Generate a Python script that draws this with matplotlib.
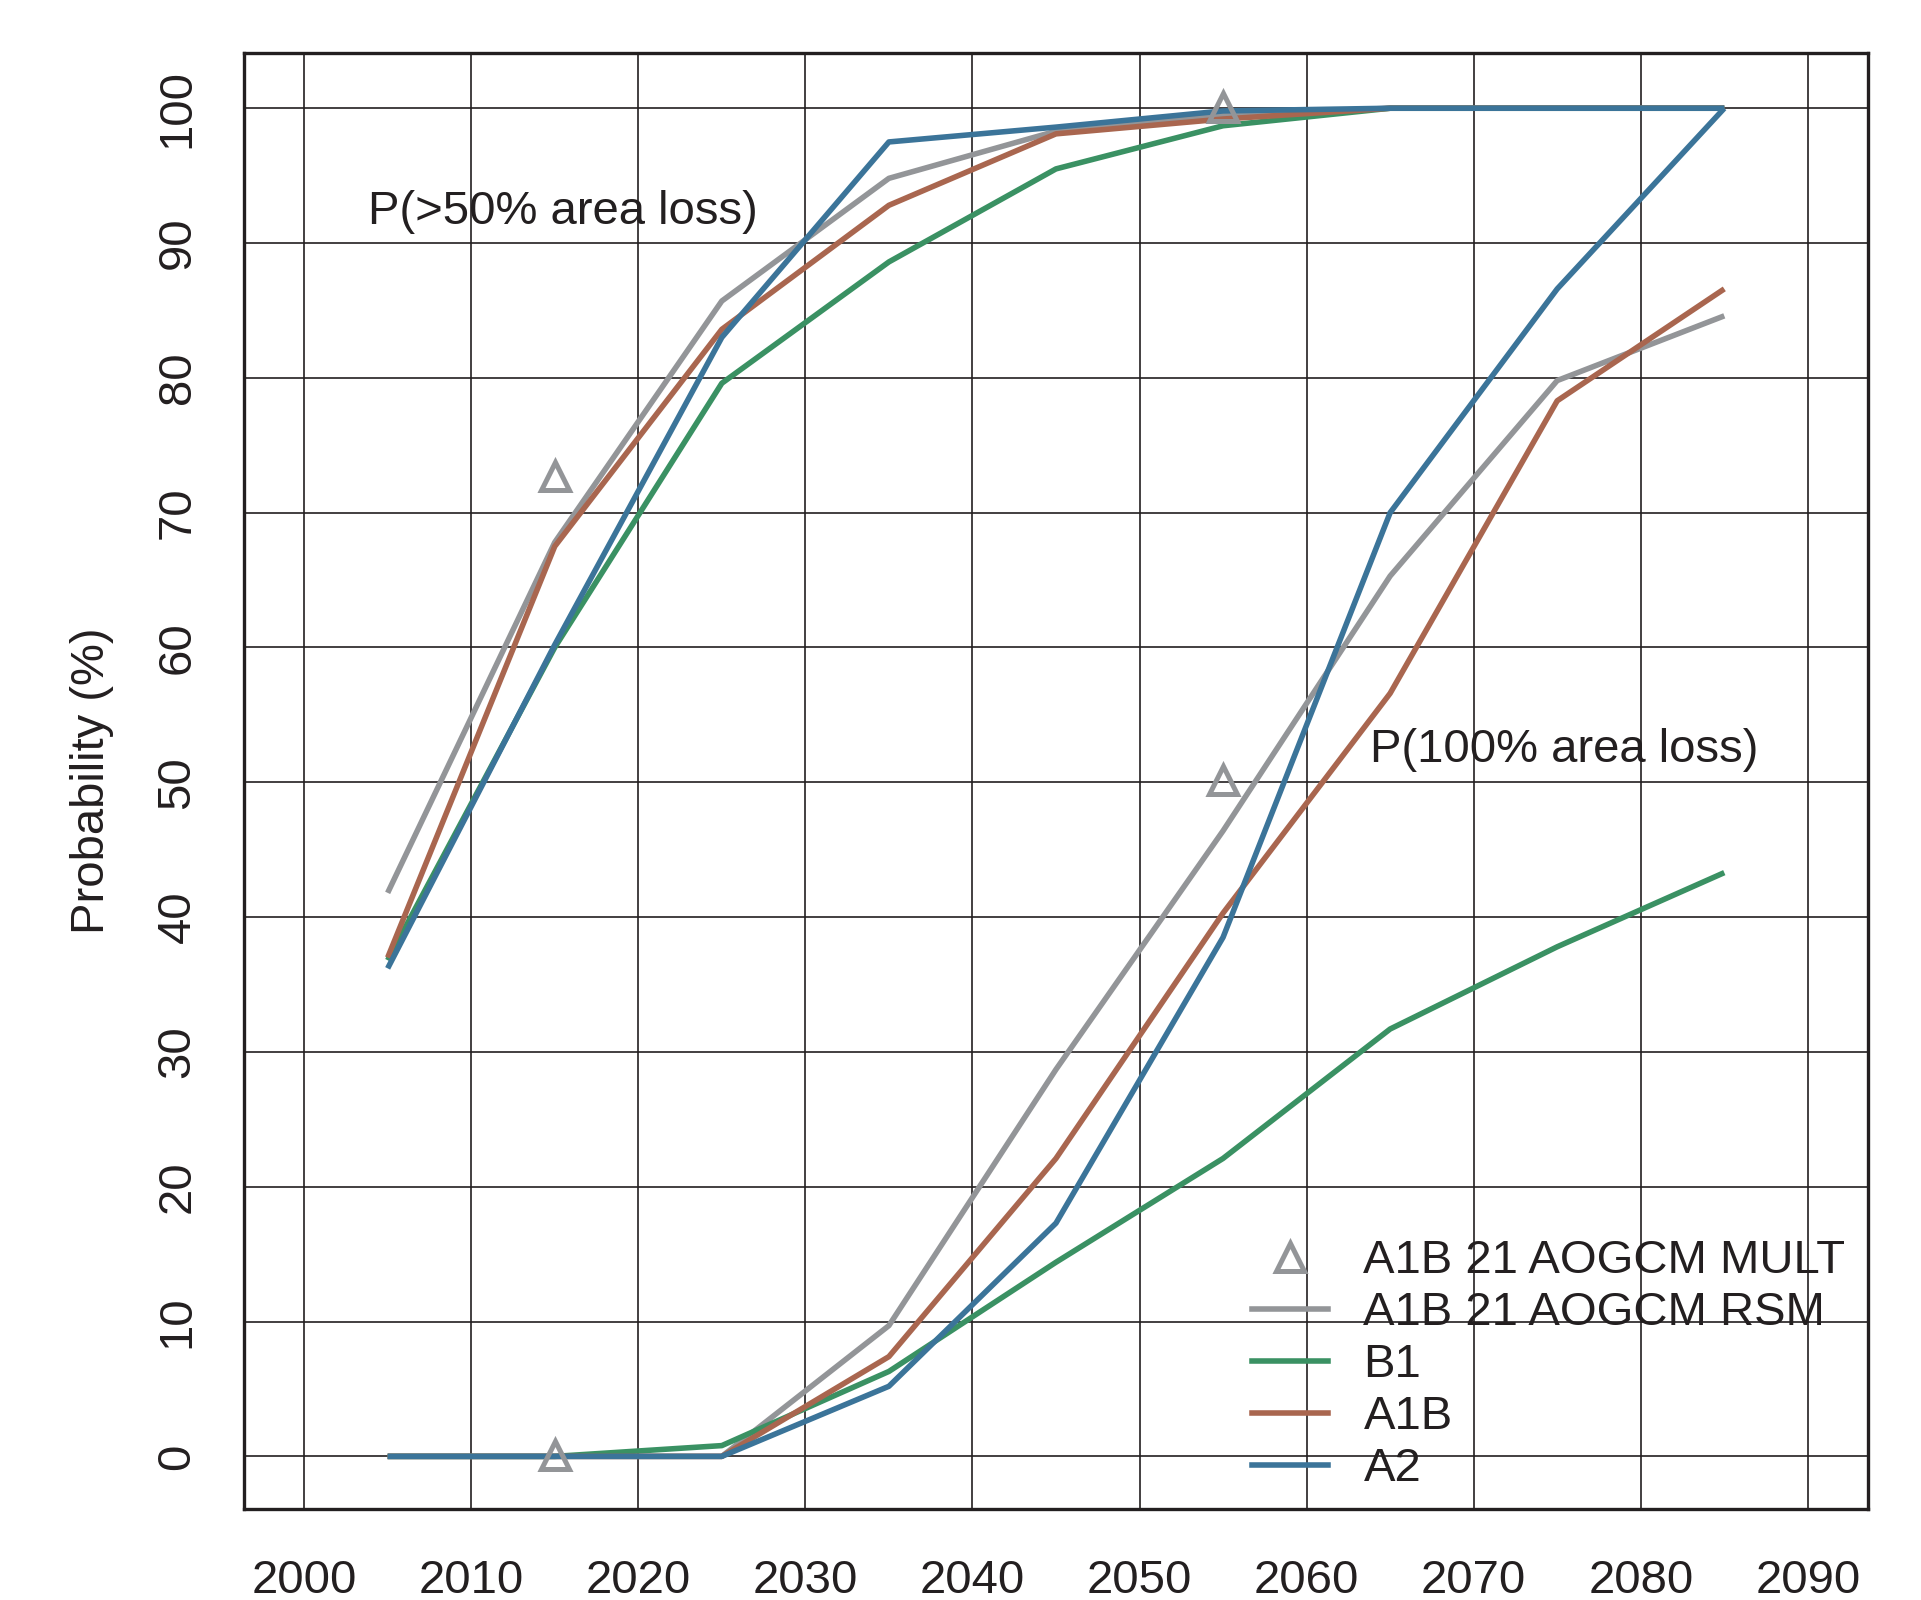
import matplotlib
matplotlib.use("Agg")
import matplotlib.pyplot as plt
from matplotlib.lines import Line2D

plt.rcParams["font.family"] = ["Liberation Sans", "DejaVu Sans"]

# decade mid-points
years = [2005, 2015, 2025, 2035, 2045, 2055, 2065, 2075, 2085]

# P(>50% area loss)
rsm_50 = [41.8, 67.8, 85.7, 94.8, 98.3, 99.5, 100, 100, 100]
b1_50 = [36.8, 60.0, 79.6, 88.6, 95.5, 98.7, 100, 100, 100]
a1b_50 = [37.0, 67.5, 83.6, 92.8, 98.1, 99.2, 100, 100, 100]
a2_50 = [36.2, 60.2, 83.0, 97.5, 98.6, 99.8, 100, 100, 100]

# P(100% area loss)
rsm_100 = [0, 0, 0, 9.7, 28.7, 46.4, 65.3, 79.8, 84.6]
b1_100 = [0, 0, 0.8, 6.3, 14.4, 22.1, 31.7, 37.8, 43.3]
a1b_100 = [0, 0, 0, 7.4, 22.1, 40.3, 56.6, 78.3, 86.6]
a2_100 = [0, 0, 0, 5.2, 17.3, 38.5, 70.0, 86.6, 100]

# multi-model points
mult_years = [2015, 2055, 2015, 2055]
mult_vals = [72.7, 100.1, 0.1, 50.2]

xticks = list(range(2000, 2091, 10))
yticks = list(range(0, 101, 10))

GRAY = "#939598"
GREEN = "#3a9163"
BROWN = "#a9664f"
BLUE = "#3b7499"
INK = "#231f20"

fig = plt.figure(figsize=(19.21, 16), dpi=100)
ax = fig.add_axes([0.127, 0.0569, 0.8454, 0.91])

lw = 4.0
for vals_50, vals_100, col in [(rsm_50, rsm_100, GRAY), (b1_50, b1_100, GREEN),
                               (a1b_50, a1b_100, BROWN), (a2_50, a2_100, BLUE)]:
    ax.plot(years, vals_50, color=col, lw=lw, solid_capstyle="butt", zorder=3)
    ax.plot(years, vals_100, color=col, lw=lw, solid_capstyle="butt", zorder=3)

ax.plot(mult_years, mult_vals, ls="none", marker="^", ms=20, mfc="none",
        mec=GRAY, mew=3.6, zorder=4)

ax.set_xlim(1996.4, 2093.6)
ax.set_ylim(-3.9, 104.1)
ax.set_xticks(xticks)
ax.set_yticks(yticks)
ax.tick_params(axis="x", length=0, pad=36, labelsize=34, colors=INK)
ax.tick_params(axis="y", length=0, pad=32, labelsize=34, colors=INK)
for lab in ax.get_yticklabels():
    lab.set_rotation(90)
    lab.set_va("center")
ax.grid(True, color=INK, lw=1.2)
ax.set_axisbelow(True)
for sp in ax.spines.values():
    sp.set_color(INK)
    sp.set_linewidth(2.4)

ax.set_ylabel("Probability (%)", fontsize=34, color=INK, labelpad=30)

ax.text(2003.8, 92.3, "P(>50% area loss)", fontsize=34, color=INK, va="center", ha="left")
ax.text(2063.8, 52.4, "P(100% area loss)", fontsize=34, color=INK, va="center", ha="left")

handles = [
    Line2D([], [], ls="none", marker="^", ms=20, mfc="none", mec=GRAY, mew=3.6),
    Line2D([], [], color=GRAY, lw=lw),
    Line2D([], [], color=GREEN, lw=lw),
    Line2D([], [], color=BROWN, lw=lw),
    Line2D([], [], color=BLUE, lw=lw),
]
labels = ["A1B 21 AOGCM MULT", "A1B 21 AOGCM RSM", "B1", "A1B", "A2"]
ax.legend(handles, labels, loc="lower left", bbox_to_anchor=(0.621, 0.012),
          frameon=False, fontsize=34, handlelength=1.6, handletextpad=0.75,
          labelspacing=0.17, borderpad=0, borderaxespad=0,
          labelcolor=INK)

fig.savefig("out.png", dpi=100)
